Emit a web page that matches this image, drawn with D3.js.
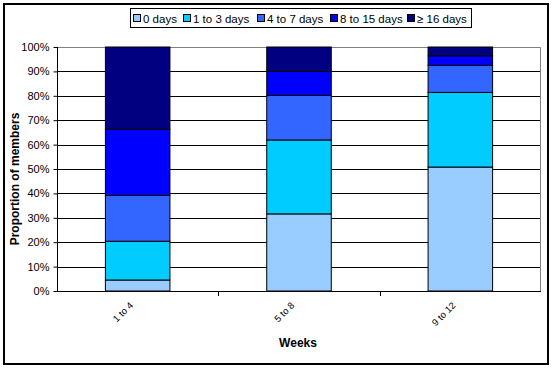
<!DOCTYPE html>
<html>
<head>
<meta charset="utf-8">
<script src="https://cdn.jsdelivr.net/npm/d3@7"></script>
<style>
  body { margin: 0; background: #fff; }
  svg { font-family: "Liberation Sans", Arial, sans-serif; }
</style>
</head>
<body>
<svg id="chart" width="555" height="371"></svg>
<script>
// data (percent of members)
const weeks = ["1 to 4", "5 to 8", "9 to 12"];
const groups = ["0 days", "1 to 3 days", "4 to 7 days", "8 to 15 days", "\u2265 16 days"];
const days0 = [4.5, 31.6, 50.8];
const days1to3 = [15.9, 30.3, 30.6];
const days4to7 = [18.8, 18.3, 11.1];
const days8to15 = [27.1, 9.8, 3.9];
const days16 = [33.7, 10.0, 3.6];
const yTicks = [0, 10, 20, 30, 40, 50, 60, 70, 80, 90, 100];

const colors = ["#99ccff", "#00ccff", "#3366ff", "#0000ff", "#000080"];
const series = [days0, days1to3, days4to7, days8to15, days16];

const rows = weeks.map((w, i) => {
  const r = { week: w };
  groups.forEach((g, j) => r[g] = series[j][i]);
  return r;
});

const svg = d3.select("#chart");

// outer border
svg.append("rect")
  .attr("x", 4).attr("y", 4)
  .attr("width", 544).attr("height", 360)
  .attr("fill", "none").attr("stroke", "#000").attr("stroke-width", 2);

const plotL = 57, plotR = 541, plotT = 47, plotB = 291;

const x = d3.scaleBand().domain(weeks).range([plotL, plotR]).paddingInner(0.6).paddingOuter(0.3);
const y = d3.scaleLinear().domain([0, 100]).range([plotB, plotT]);

// gridlines
svg.append("g")
  .selectAll("line")
  .data(yTicks.filter(d => d > 0 && d < 100))
  .enter().append("line")
  .attr("x1", plotL).attr("x2", plotR)
  .attr("y1", d => Math.round(y(d)) + 0.5).attr("y2", d => Math.round(y(d)) + 0.5)
  .attr("stroke", "#000").attr("stroke-width", 1);

// plot area border (top + right grey)
svg.append("path")
  .attr("d", `M${plotL},${plotT + 0.5}H${plotR - 0.5}V${plotB}`)
  .attr("fill", "none").attr("stroke", "#808080");

// stacked bars
const stack = d3.stack().keys(groups)(rows);
svg.append("g")
  .selectAll("g")
  .data(stack)
  .enter().append("g")
  .attr("fill", (d, i) => colors[i])
  .selectAll("rect")
  .data(d => d)
  .enter().append("rect")
  .attr("x", d => x(d.data.week))
  .attr("y", d => y(d[1]))
  .attr("width", x.bandwidth())
  .attr("height", d => y(d[0]) - y(d[1]))
  .attr("stroke", "#000").attr("stroke-width", 1);

// y axis
const yAxis = svg.append("g")
  .attr("transform", `translate(${plotL + 0.5},0)`)
  .call(d3.axisLeft(y).tickValues(yTicks).tickSize(4).tickFormat(d => d + "%"));
yAxis.select(".domain").attr("d", `M0,${plotT}V${plotB + 0.5}`).attr("stroke", "#000");
yAxis.selectAll(".tick line").attr("stroke", "#000");
yAxis.selectAll("text")
  .attr("font-size", 11).attr("fill", "#000")
  .attr("font-family", "Liberation Sans, Arial, sans-serif")
  .attr("x", -8);

// x axis
const xAxis = svg.append("g")
  .attr("transform", `translate(0,${plotB + 0.5})`)
  .call(d3.axisBottom(x).tickSize(0).tickFormat(""));
xAxis.select(".domain").attr("d", `M${plotL},0H${plotR}`).attr("stroke", "#000");
// tick marks between categories
svg.append("g")
  .selectAll("line")
  .data(weeks.slice(1))
  .enter().append("line")
  .attr("x1", d => Math.round(x(d) - x.step() * x.paddingInner() / 2) + 0.5)
  .attr("x2", d => Math.round(x(d) - x.step() * x.paddingInner() / 2) + 0.5)
  .attr("y1", plotB).attr("y2", plotB + 5)
  .attr("stroke", "#000");

// rotated category labels
svg.append("g")
  .selectAll("text")
  .data(weeks)
  .enter().append("text")
  .attr("transform", d => `translate(${x(d) + x.bandwidth() / 2 - 4},${plotB + 15}) rotate(-45)`)
  .attr("text-anchor", "end")
  .attr("font-size", 9.5)
  .text(d => d);

// axis titles
svg.append("text")
  .attr("x", 298).attr("y", 347)
  .attr("text-anchor", "middle")
  .attr("font-size", 12).attr("font-weight", "bold")
  .text("Weeks");

svg.append("text")
  .attr("transform", "translate(19,179) rotate(-90)")
  .attr("text-anchor", "middle")
  .attr("font-size", 12).attr("font-weight", "bold")
  .text("Proportion of members");

// legend
const legend = svg.append("g");
legend.append("rect")
  .attr("x", 130.5).attr("y", 8.5)
  .attr("width", 341).attr("height", 19)
  .attr("fill", "#fff").attr("stroke", "#000");

const legendX = [133, 183, 257, 330, 407];
groups.forEach((g, i) => {
  legend.append("rect")
    .attr("x", legendX[i] + 0.5).attr("y", 14.5)
    .attr("width", 7).attr("height", 7)
    .attr("fill", colors[i]).attr("stroke", "#000");
  legend.append("text")
    .attr("x", legendX[i] + 10).attr("y", 22.5)
    .attr("font-size", 11.5)
    .text(g);
});
</script>
</body>
</html>
